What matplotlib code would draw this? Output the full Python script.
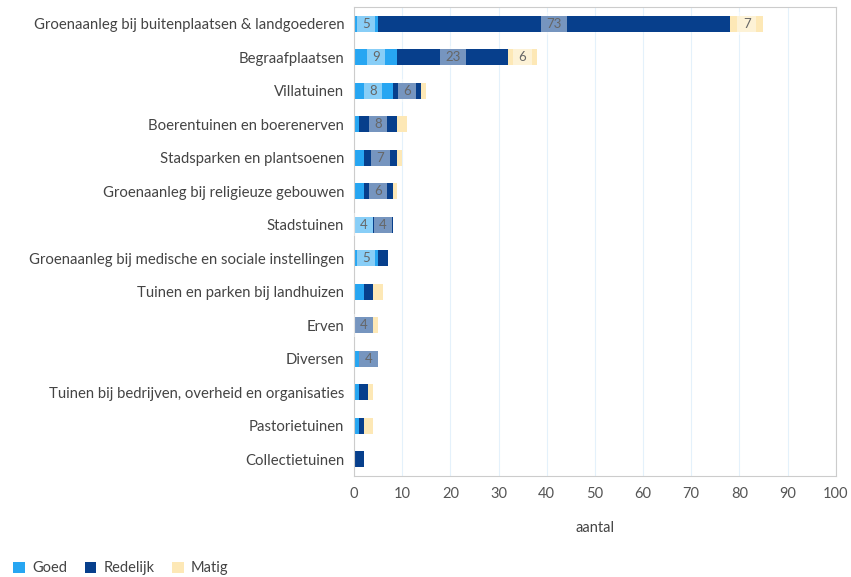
import matplotlib.pyplot as plt
import numpy as np

plt.rcParams['font.family'] = ['Lato', 'DejaVu Sans']

categories = [
    'Groenaanleg bij buitenplaatsen & landgoederen',
    'Begraafplaatsen',
    'Villatuinen',
    'Boerentuinen en boerenerven',
    'Stadsparken en plantsoenen',
    'Groenaanleg bij religieuze gebouwen',
    'Stadstuinen',
    'Groenaanleg bij medische en sociale instellingen',
    'Tuinen en parken bij landhuizen',
    'Erven',
    'Diversen',
    'Tuinen bij bedrijven, overheid en organisaties',
    'Pastorietuinen',
    'Collectietuinen',
]
goed = [5, 9, 8, 1, 2, 2, 4, 5, 2, 0, 1, 1, 1, 0]
redelijk = [73, 23, 6, 8, 7, 6, 4, 2, 2, 4, 4, 2, 1, 2]
matig = [7, 6, 1, 2, 1, 1, 0, 0, 2, 1, 0, 1, 2, 0]

series = [('Goed', goed, '#27a6f2'), ('Redelijk', redelijk, '#073f8c'), ('Matig', matig, '#fde8b6')]
xticks = list(range(0, 101, 10))

fig = plt.figure(figsize=(8.51, 5.77), dpi=100)
ax = fig.add_axes([0.416, 0.175, 0.566, 0.813])

y = np.arange(len(categories))
left = np.zeros(len(categories))
for name, vals, col in series:
    vals = np.array(vals)
    ax.barh(y, vals, left=left, height=0.48, color=col, label=name, zorder=2)
    for yi, l, v in zip(y, left, vals):
        if v >= 4:
            ax.text(l + v / 2, yi, str(v), ha='center', va='center', fontsize=9.5,
                    color='#666666', zorder=3,
                    bbox=dict(boxstyle='square,pad=0.4', fc='white', ec='none', alpha=0.45))
    left += vals

ax.set_xlim(0, 100)
ax.set_ylim(len(categories) - 0.5, -0.5)
ax.set_yticks(y)
ax.set_yticklabels(categories, fontsize=10.7, color='#444444')
ax.set_xticks(xticks)
ax.set_xticklabels([str(t) for t in xticks], fontsize=10.5, color='#555555')
ax.tick_params(length=0, pad=7)
ax.tick_params(axis='x', pad=8)
ax.grid(axis='x', color='#e4f1fb', linewidth=0.8, zorder=0)
for s in ax.spines.values():
    s.set_color('#cccccc')
ax.set_xlabel('aantal', fontsize=10.5, color='#444444', labelpad=14)

fig.legend(loc='lower left', bbox_to_anchor=(0.0, -0.02), ncol=3, frameon=False,
           fontsize=10.5, handlelength=0.8, handleheight=0.8, handletextpad=0.5,
           columnspacing=1.2, labelcolor='#444444')

fig.savefig('out.png', dpi=100)
